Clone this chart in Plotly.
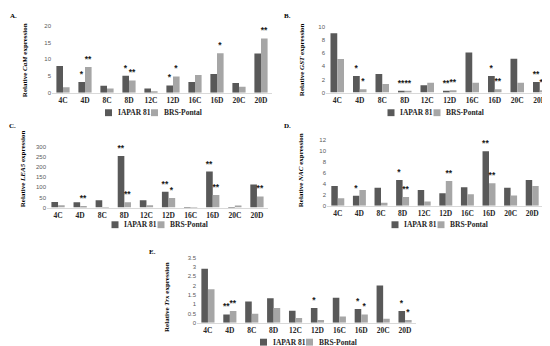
import plotly.graph_objects as go

# ---------------- data ----------------
categories = ["4C", "4D", "8C", "8D", "12C", "12D", "16C", "16D", "20C", "20D"]
series_names = ["IAPAR 81", "BRS-Pontal"]

cam_iapar = [8.0, 3.2, 2.1, 5.1, 1.3, 2.2, 3.2, 5.6, 2.9, 11.7]
cam_brs = [1.7, 7.7, 1.3, 3.7, 0.5, 4.9, 5.3, 11.8, 1.8, 16.2]
cam_iapar_sig = ["", "*", "", "*", "", "*", "", "", "", ""]
cam_brs_sig = ["", "**", "", "**", "", "*", "", "*", "", "**"]

gst_iapar = [9.0, 2.5, 2.8, 0.2, 1.1, 0.2, 6.1, 2.5, 5.15, 1.6]
gst_brs = [5.1, 0.5, 1.3, 0.25, 1.5, 0.35, 1.5, 0.5, 1.5, 0.35]
gst_iapar_sig = ["", "*", "", "**", "", "**", "", "*", "", "**"]
gst_brs_sig = ["", "*", "", "**", "", "**", "", "**", "", "**"]

lea_iapar = [27.6, 26.0, 35.7, 254.6, 35.7, 77.8, 0.8, 178.0, 0.8, 113.5]
lea_brs = [11.4, 3.2, 1.6, 26.0, 11.4, 47.0, 0.4, 61.6, 10.5, 55.0]
lea_iapar_sig = ["", "", "", "**", "", "**", "", "**", "", ""]
lea_brs_sig = ["", "**", "", "**", "", "*", "", "**", "", "**"]

nac_iapar = [3.6, 1.85, 3.3, 4.7, 2.9, 2.3, 3.4, 9.9, 3.3, 4.7]
nac_brs = [1.4, 2.9, 0.55, 1.6, 0.8, 4.5, 2.1, 4.1, 1.9, 3.6]
nac_iapar_sig = ["", "*", "", "*", "", "", "", "**", "", ""]
nac_brs_sig = ["", "", "", "**", "", "**", "", "**", "", ""]

trx_iapar = [2.9, 0.45, 1.15, 1.32, 0.65, 0.8, 1.34, 0.74, 2.0, 0.63]
trx_brs = [1.8, 0.63, 0.48, 0.79, 0.26, 0.15, 0.34, 0.45, 0.22, 0.15]
trx_iapar_sig = ["", "**", "", "", "", "*", "", "*", "", "*"]
trx_brs_sig = ["", "**", "", "", "", "", "", "*", "", "*"]

gene_names = ["CaM", "GST", "LEA5", "NAC", "Trx"]
panel_letters = ["A.", "B.", "C.", "D.", "E."]
y_max = [20, 10, 300, 12, 3.5]
y_step = [5, 2, 50, 2, 0.5]

# ---------------- styling / layout ----------------
W, H = 550, 346
DARK = "#595959"
LIGHT = "#a6a6a6"
SERIF = "Liberation Serif"
SANS = "Liberation Sans"

# plot boxes in pixels: (x_left, x_right, y_zero, y_top)
boxes = [
    (44, 264, 83.3, 15),
    (318, 543, 83, 16),
    (39, 260, 200, 138.3),
    (319, 535, 198.3, 131),
    (189, 408, 317.3, 251),
]
title_pos = [(17, 50), (294, 50), (15, 161), (293, 162), (159, 291)]
letter_pos = [(5, 5), (279, 5), (4, 117), (280, 117), (144, 245)]
legend_pos = [(97, 103.5), (379.5, 103.5), (103.5, 217.5), (383.5, 217.5), (252, 337)]

series = [
    (cam_iapar, cam_brs, cam_iapar_sig, cam_brs_sig),
    (gst_iapar, gst_brs, gst_iapar_sig, gst_brs_sig),
    (lea_iapar, lea_brs, lea_iapar_sig, lea_brs_sig),
    (nac_iapar, nac_brs, nac_iapar_sig, nac_brs_sig),
    (trx_iapar, trx_brs, trx_iapar_sig, trx_brs_sig),
]

fig = go.Figure()
layout = dict(
    width=W, height=H, margin=dict(l=0, r=0, t=0, b=0),
    paper_bgcolor="white", plot_bgcolor="white",
    barmode="group", bargap=0.4, bargroupgap=0,
    showlegend=False,
)
annotations = []
shapes = []

for i, (vals_a, vals_b, sig_a, sig_b) in enumerate(series):
    n = "" if i == 0 else str(i + 1)
    xa, ya = "x" + n, "y" + n
    for vals, sig, color, name in ((vals_a, sig_a, DARK, series_names[0]),
                                   (vals_b, sig_b, LIGHT, series_names[1])):
        fig.add_trace(go.Bar(
            x=categories, y=vals, name=name, marker_color=color,
            marker_line_width=0, xaxis=xa, yaxis=ya,
            text=sig, textposition="outside", textangle=0,
            constraintext="none", cliponaxis=False,
            textfont=dict(family=SANS, size=8.5, color="#1a1a1a", weight="bold"),
            hoverinfo="x+y+name",
        ))
    x0, x1, yz, yt = boxes[i]
    layout["xaxis" + n] = dict(
        domain=[x0 / W, x1 / W], anchor=ya, type="category",
        showline=True, linecolor="#d9d9d9", linewidth=1,
        showgrid=False, zeroline=False, ticks="",
        tickfont=dict(family=SERIF, size=7.5, color="#262626", weight="bold"),
        fixedrange=True,
    )
    layout["yaxis" + n] = dict(
        domain=[1 - yz / H, 1 - yt / H], anchor=xa,
        range=[0, y_max[i]], dtick=y_step[i], tick0=0,
        showline=False, showgrid=False, zeroline=False, ticks="",
        tickfont=dict(family=SANS, size=6, color="#595959"),
        fixedrange=True,
    )
    tx, ty = title_pos[i]
    annotations.append(dict(
        text="<b>Relative <i>%s</i> expression</b>" % gene_names[i],
        x=tx / W, y=1 - ty / H, xref="paper", yref="paper",
        textangle=-90, showarrow=False, xanchor="center", yanchor="middle",
        font=dict(family=SERIF, size=7, color="#000000"),
    ))
    lx, ly = letter_pos[i]
    annotations.append(dict(
        text="<b>%s</b>" % panel_letters[i], x=lx / W, y=1 - ly / H,
        xref="paper", yref="paper", showarrow=False,
        xanchor="center", yanchor="middle",
        font=dict(family=SERIF, size=7, color="#000000"),
    ))
    # manual legend (small squares + labels)
    gx, gy = legend_pos[i]
    for k, (col, name, dx) in enumerate(((DARK, series_names[0], 0),
                                         (LIGHT, series_names[1], 46))):
        sx = gx + dx
        shapes.append(dict(
            type="rect", xref="paper", yref="paper",
            x0=sx / W, x1=(sx + 7) / W,
            y0=1 - (gy + 3.5) / H, y1=1 - (gy - 3.5) / H,
            fillcolor=col, line=dict(width=0),
        ))
        annotations.append(dict(
            text="<b>%s</b>" % name, x=(sx + 10.5) / W, y=1 - gy / H,
            xref="paper", yref="paper", showarrow=False,
            xanchor="left", yanchor="middle",
            font=dict(family=SERIF, size=7.5, color="#262626"),
        ))

layout["annotations"] = annotations
layout["shapes"] = shapes
fig.update_layout(**layout)
fig.write_html("out.html")
